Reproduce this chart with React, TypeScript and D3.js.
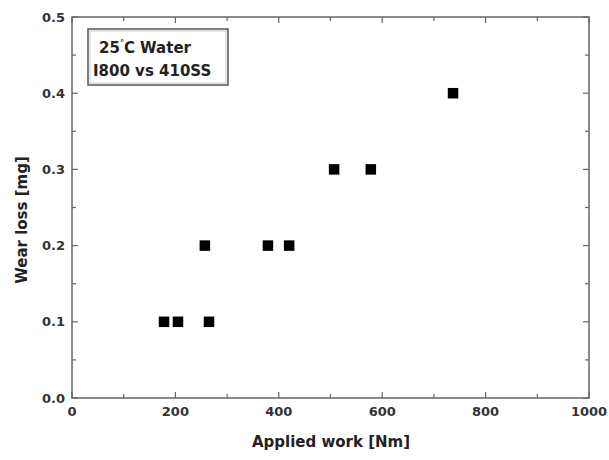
import { useEffect, useRef } from 'react'
import * as d3 from 'd3'

const appliedWork = [178, 205, 265, 257, 379, 420, 507, 578, 737]
const wearLoss = [0.1, 0.1, 0.1, 0.2, 0.2, 0.2, 0.3, 0.3, 0.4]
const xTicks = [0, 200, 400, 600, 800, 1000]
const yTicks = [0.0, 0.1, 0.2, 0.3, 0.4, 0.5]
const legendLines = ['Water', 'I800 vs 410SS']

export default function App() {
  const svgRef = useRef<SVGSVGElement>(null)

  useEffect(() => {
    if (!svgRef.current) return
    const width = 609
    const height = 460
    const left = 72
    const right = 589
    const top = 17
    const bottom = 398
    const font = 'Verdana, "DejaVu Sans", sans-serif'
    const axisColor = '#666'

    const svg = d3.select(svgRef.current)
    svg.selectAll('*').remove()
    svg.attr('width', width).attr('height', height)

    const x = d3.scaleLinear().domain([0, 1000]).range([left, right])
    const y = d3.scaleLinear().domain([0, 0.5]).range([bottom, top])

    // frame
    svg.append('rect')
      .attr('x', left).attr('y', top)
      .attr('width', right - left).attr('height', bottom - top)
      .attr('fill', 'none').attr('stroke', axisColor).attr('stroke-width', 1.5)

    // ticks (inward, mirrored)
    const xMinor = d3.range(0, 1001, 100)
    const yMinor = d3.range(0, 0.501, 0.05)
    const tickG = svg.append('g').attr('stroke', axisColor).attr('stroke-width', 1.2)
    xMinor.forEach((v, i) => {
      const len = i % 2 === 0 ? 6 : 4
      tickG.append('line').attr('x1', x(v)).attr('x2', x(v)).attr('y1', bottom).attr('y2', bottom - len)
      tickG.append('line').attr('x1', x(v)).attr('x2', x(v)).attr('y1', top).attr('y2', top + len)
    })
    yMinor.forEach((v, i) => {
      const len = i % 2 === 0 ? 6 : 4
      tickG.append('line').attr('y1', y(v)).attr('y2', y(v)).attr('x1', left).attr('x2', left + len)
      tickG.append('line').attr('y1', y(v)).attr('y2', y(v)).attr('x1', right).attr('x2', right - len)
    })

    // tick labels
    svg.append('g').selectAll('text').data(xTicks).enter().append('text')
      .attr('x', (d: number) => x(d)).attr('y', bottom + 18)
      .attr('text-anchor', 'middle')
      .style('font-family', font).style('font-size', '13px').style('font-weight', 'bold')
      .attr('fill', '#333')
      .text((d: number) => d)

    svg.append('g').selectAll('text').data(yTicks).enter().append('text')
      .attr('x', left - 7).attr('y', (d: number) => y(d) + 4.5)
      .attr('text-anchor', 'end')
      .style('font-family', font).style('font-size', '13px').style('font-weight', 'bold')
      .attr('fill', '#333')
      .text((d: number) => d.toFixed(1))

    // axis titles
    svg.append('text')
      .attr('x', 331).attr('y', 447)
      .attr('text-anchor', 'middle')
      .style('font-family', font).style('font-size', '15px').style('font-weight', 'bold')
      .attr('fill', '#222')
      .text('Applied work [Nm]')

    svg.append('text')
      .attr('transform', 'translate(27,220) rotate(-90)')
      .attr('text-anchor', 'middle')
      .style('font-family', font).style('font-size', '15px').style('font-weight', 'bold')
      .attr('fill', '#222')
      .text('Wear loss [mg]')

    // points
    const data = appliedWork.map((w, i) => ({ w, l: wearLoss[i] }))
    const s = 10.5
    svg.append('g').selectAll('rect').data(data).enter().append('rect')
      .attr('x', (d: { w: number }) => x(d.w) - s / 2)
      .attr('y', (d: { l: number }) => y(d.l) - s / 2)
      .attr('width', s).attr('height', s)
      .attr('fill', '#000')

    // legend box
    const lg = svg.append('g')
    lg.append('rect').attr('x', 88).attr('y', 29).attr('width', 140).attr('height', 56)
      .attr('fill', 'white').attr('stroke', '#555').attr('stroke-width', 1.5)
    lg.append('rect').attr('x', 90).attr('y', 31).attr('width', 136).attr('height', 52)
      .attr('fill', 'none').attr('stroke', '#bbb').attr('stroke-width', 0.8)
    const t1 = lg.append('text').attr('x', 99).attr('y', 53)
      .style('font-family', font).style('font-size', '15px').style('font-weight', 'bold')
      .attr('fill', '#222')
    t1.append('tspan').text('25')
    t1.append('tspan').attr('dy', -7).style('font-size', '8px').text('°')
    t1.append('tspan').attr('dy', 7).text('C ' + legendLines[0])
    lg.append('text').attr('x', 93).attr('y', 76)
      .style('font-family', font).style('font-size', '15px').style('font-weight', 'bold')
      .attr('fill', '#222')
      .text(legendLines[1])
  }, [])

  return <svg ref={svgRef} style={{ display: 'block', position: 'absolute', left: 0, top: 0 }} />
}
